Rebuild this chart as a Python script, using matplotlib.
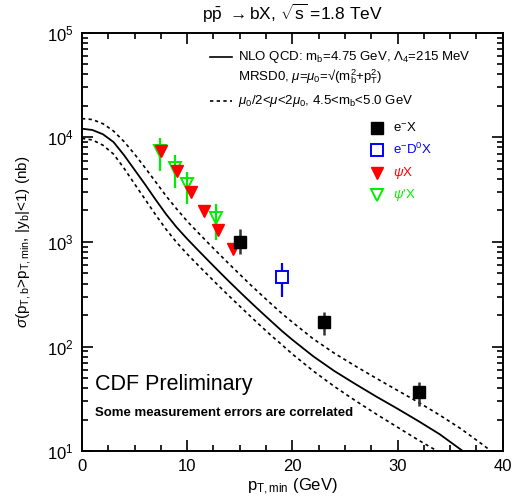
import numpy as np
import matplotlib
matplotlib.use("Agg")
import matplotlib.pyplot as plt
from matplotlib.ticker import MultipleLocator, LogLocator, NullFormatter

plt.rcParams['font.family'] = ['Liberation Sans', 'DejaVu Sans']
plt.rcParams['mathtext.fontset'] = 'custom'
plt.rcParams['mathtext.rm'] = 'Liberation Sans'
plt.rcParams['mathtext.it'] = 'Liberation Sans:italic'
plt.rcParams['mathtext.bf'] = 'Liberation Sans:bold'
plt.rcParams['mathtext.sf'] = 'Liberation Sans'

# NLO QCD prediction, central value and scale/mass band (nb)
nlo_pt = [0, 1, 2, 3, 4, 5, 6, 7, 8, 9, 10, 11, 12, 13, 14, 15, 16, 17, 18, 19, 20,
          22, 24, 26, 28, 30, 32, 34, 36, 37]
nlo_central = [12100, 11750, 10700, 9020, 6760, 4900, 3550, 2540, 1840, 1380, 1070,
               841, 664, 525, 417, 333, 267, 215, 174, 141, 116,
               80.4, 58.2, 43.7, 33.1, 25.4, 19.3, 14.5, 10.35, 8.7]

band_hi_pt = [0, 1, 2, 3, 4, 5, 6, 7, 8, 9, 10, 11, 12, 13, 14, 15, 16, 17, 18, 19, 20,
              22, 24, 26, 28, 30, 32, 34, 36, 38, 39]
band_hi = [15100, 14800, 13500, 11500, 9120, 6920, 5130, 3760, 2750, 2070, 1580,
           1240, 977, 773, 614, 490, 391, 315, 255, 207, 171,
           118, 86.1, 64.9, 49.5, 38.0, 29.2, 22.1, 16.4, 11.7, 9.8]

band_lo_pt = [0, 1, 2, 3, 4, 5, 6, 7, 8, 9, 10, 11, 12, 13, 14, 15, 16, 17, 18, 19, 20,
              22, 24, 26, 28, 30, 32, 34]
band_lo = [9770, 9440, 8410, 6920, 5070, 3590, 2560, 1820, 1320, 989, 767,
           605, 479, 380, 303, 243, 195, 157, 127, 104, 84.7,
           58.2, 41.4, 30.3, 22.5, 16.9, 12.7, 9.7]

# measurements
ex_pt = [15, 23, 32]
ex_sig = [1000, 170, 37]
ex_lo = [774, 129, 27]
ex_hi = [1337, 215, 46]

edx_pt = [19]
edx_sig = [460]
edx_lo = [300]
edx_hi = [635]

psi_pt = [7.5, 9.0, 10.4, 11.65, 12.9, 14.35]
psi_sig = [7410, 4770, 2980, 1970, 1306, 865]

psip_pt = [7.45, 8.8, 10.0, 12.75]
psip_sig = [7410, 5130, 3600, 1700]
psip_lo = [4760, 3300, 2330, 1054]
psip_hi = [9750, 6730, 4660, 2330]


def yerr(v, lo, hi):
    v = np.array(v)
    return [v - np.array(lo), np.array(hi) - v]


fig = plt.figure(figsize=(5.12, 5.04), dpi=100)
ax = fig.add_axes([0.160, 0.105, 0.822, 0.830])

ax.plot(nlo_pt, nlo_central, color='black', lw=1.3)
ax.plot(band_hi_pt, band_hi, color='black', lw=1.2, ls=(0, (2, 2)))
ax.plot(band_lo_pt, band_lo, color='black', lw=1.2, ls=(0, (2, 2)))

ax.errorbar(psip_pt, psip_sig, yerr=yerr(psip_sig, psip_lo, psip_hi), fmt='v',
            mfc='none', mec='#00ee00', mew=1.4, ms=9, ecolor='#00ee00',
            elinewidth=1.6, capsize=0, zorder=4)
ax.plot(psi_pt, psi_sig, 'v', color='#ff0000', ms=9, zorder=5)
ax.errorbar(ex_pt, ex_sig, yerr=yerr(ex_sig, ex_lo, ex_hi), fmt='s', color='black',
            ms=8, ecolor='#333333', elinewidth=1.8, capsize=0, zorder=5)
ax.errorbar(edx_pt, edx_sig, yerr=yerr(edx_sig, edx_lo, edx_hi), fmt='s',
            mfc='white', mec='#0000ff', mew=1.4, ms=8, ecolor='#0000ff',
            elinewidth=1.6, capsize=0, zorder=5)

ax.set_yscale('log')
ax.set_xlim(0, 40)
ax.set_ylim(10, 1e5)
ax.xaxis.set_major_locator(MultipleLocator(10))
ax.xaxis.set_minor_locator(MultipleLocator(2.5))
ax.yaxis.set_major_locator(LogLocator(base=10))
ax.yaxis.set_minor_locator(LogLocator(base=10, subs=np.arange(2, 10)))
ax.yaxis.set_minor_formatter(NullFormatter())
ax.tick_params(which='both', direction='in', top=True, right=True, width=1.2,
               labelsize=12, pad=6)
ax.tick_params(which='major', length=8)
ax.tick_params(which='minor', length=4)
for s in ax.spines.values():
    s.set_linewidth(1.4)

ax.set_title(r"p$\bar{\rm p}$ $\rightarrow$bX, $\sqrt{\rm s}$ =1.8 TeV", fontsize=12.5, pad=9)
ax.set_xlabel(r"p$_{\rm T,min}$ (GeV)", fontsize=12, labelpad=2)
ax.set_ylabel(r"$\sigma$(p$_{\rm T,b}$>p$_{\rm T,min}$, |y$_{\rm b}$|<1) (nb)",
              fontsize=11, labelpad=10)

# legend for the theory curves
tr = ax.transAxes
ax.plot([0.304, 0.356], [0.943, 0.943], color='black', lw=1.2, transform=tr)
ax.text(0.371, 0.943, r"NLO QCD: m$_{\rm b}$=4.75 GeV, $\Lambda_{\rm 4}$=215 MeV",
        transform=tr, fontsize=9.5, va='center')
ax.text(0.371, 0.894, r"MRSD0, $\mu$=$\mu_{\rm 0}$=√(m$_{\rm b}^{\rm 2}$+p$_{\rm T}^{\rm 2}$)",
        transform=tr, fontsize=9.5, va='center')
ax.plot([0.304, 0.356], [0.836, 0.836], color='black', lw=1.2, ls=(0, (2, 2)),
        transform=tr)
ax.text(0.371, 0.836, r"$\mu_{\rm 0}$/2<$\mu$<2$\mu_{\rm 0}$, 4.5<m$_{\rm b}$<5.0 GeV",
        transform=tr, fontsize=9.5, va='center')

# legend for the measurements
ax.plot(0.701, 0.773, 's', color='black', ms=8, transform=tr)
ax.text(0.739, 0.773, r"e$^{-}$X", transform=tr, fontsize=9.5, va='center')
ax.plot(0.701, 0.720, 's', mfc='white', mec='#0000ff', mew=1.4, ms=8, transform=tr)
ax.text(0.739, 0.720, r"e$^{-}$D$^{\rm 0}$X", transform=tr, fontsize=9.5, va='center',
        color='#0000ff')
ax.plot(0.701, 0.665, 'v', color='#ff0000', ms=9, transform=tr)
ax.text(0.739, 0.665, r"$\psi$X", transform=tr, fontsize=9.5, va='center', color='#ff0000')
ax.plot(0.701, 0.613, 'v', mfc='none', mec='#00ee00', mew=1.4, ms=9, transform=tr)
ax.text(0.739, 0.613, r"$\psi$'X", transform=tr, fontsize=9.5, va='center', color='#00ee00')

ax.text(0.031, 0.160, "CDF Preliminary", transform=tr, fontsize=15.5, va='center')
ax.text(0.031, 0.090, "Some measurement errors are correlated", transform=tr,
        fontsize=9.5, fontweight='bold', va='center')

fig.savefig('out.png', dpi=100)
